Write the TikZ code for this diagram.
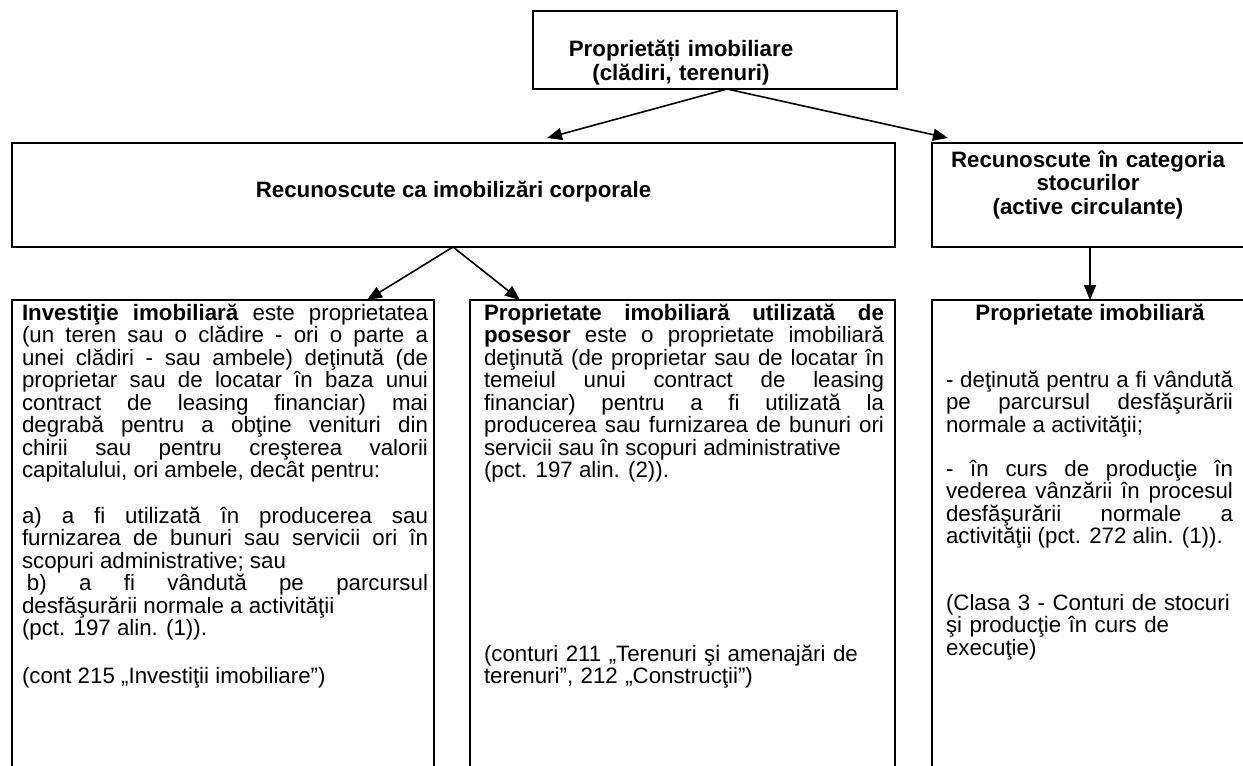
\documentclass[tikz,border=0pt]{standalone}
\usepackage{fontspec}
\setmainfont{Liberation Sans}
\usetikzlibrary{arrows.meta,calc}
\begin{document}
\begin{tikzpicture}[x=1pt,y=-1pt,
  every node/.style={inner sep=0pt, outer sep=0pt, font=\fontsize{22.3}{22.5}\selectfont},
  frame/.style={draw=black, line width=2.4pt, rectangle, anchor=north west},
  conn/.style={draw=black, line width=1.6pt, -{Triangle[length=15pt,width=12pt]}},
  para/.style={anchor=base west, align=justify},
  plain/.style={anchor=base west, align=left},
  heading/.style={anchor=base, align=center, font=\fontsize{22.3}{23.5}\selectfont\bfseries},
]
\useasboundingbox (0,0) rectangle (1243,766);
\clip (0,0) rectangle (1243,766);
% boxes
\node[frame, minimum width=364pt, minimum height=78pt] (top) at (533,11) {};
\node[frame, minimum width=883pt, minimum height=104pt] (cor) at (12,143) {};
\node[frame, minimum width=340pt, minimum height=104pt] (sto) at (932,143) {};
\node[frame, minimum width=422pt, minimum height=520pt] (inv) at (12,300) {};
\node[frame, minimum width=425pt, minimum height=520pt] (pos) at (470,300) {};
\node[frame, minimum width=340pt, minimum height=520pt] (stk) at (932,300) {};
% titles
\node[heading, text width=320pt, font=\fontsize{22.3}{24}\selectfont\bfseries] (toptitle) at (681,56) {Proprietăți imobiliare\\(clădiri, terenuri)};
\node[heading] (cortitle) at (453.5,197) {Recunoscute ca imobilizări corporale};
\node[heading, text width=320pt] (stotitle) at (1088,167) {Recunoscute în categoria\\stocurilor\\(active circulante)};
% box 1
\node[para, text width=406pt] (invA) at (22,320) {\textbf{Investiţie imobiliară} este proprietatea\linebreak
(un teren sau o clădire - ori o parte a\linebreak
unei clădiri - sau ambele) deţinută (de\linebreak
proprietar sau de locatar în baza unui\linebreak
contract de leasing financiar) mai\linebreak
degrabă pentru a obţine venituri din\linebreak
chirii sau pentru creşterea valorii\linebreak
capitalului, ori ambele, decât pentru:};
\node[para, text width=406pt] (invB) at (22,523) {a) a fi utilizată în producerea sau\linebreak
furnizarea de bunuri sau servicii ori în\linebreak
scopuri administrative; sau\newline
\hspace*{5pt}b) a fi vândută pe parcursul\linebreak
desfăşurării normale a activităţii\newline
(pct. 197 alin. (1)).};
\node[plain] (invC) at (22,683) {(cont 215 „Investiţii imobiliare”)};
% box 2
\node[para, text width=400pt] (posA) at (484,320) {\textbf{Proprietate imobiliară utilizată de}\linebreak
\textbf{posesor} este o proprietate imobiliară\linebreak
deţinută (de proprietar sau de locatar în\linebreak
temeiul unui contract de leasing\linebreak
financiar) pentru a fi utilizată la\linebreak
producerea sau furnizarea de bunuri ori\linebreak
servicii sau în scopuri administrative\newline
(pct. 197 alin. (2)).};
\node[plain, text width=400pt] (posB) at (484,661) {(conturi 211 „Terenuri şi amenajări de\\terenuri”, 212 „Construcţii”)};
% box 3
\node[heading] (stkT) at (1090,320) {Proprietate imobiliară};
\node[para, text width=287pt] (stkA) at (946,387) {- deţinută pentru a fi vândută\linebreak
pe parcursul desfăşurării\linebreak
normale a activităţii;};
\node[para, text width=287pt] (stkB) at (946,476) {- în curs de producţie în\linebreak
vederea vânzării în procesul\linebreak
desfăşurării normale a\linebreak
activităţii (pct. 272 alin. (1)).};
\node[plain, text width=287pt] (stkC) at (946,610) {(Clasa 3 - Conturi de stocuri\\şi producţie în curs de\\execuţie)};
% connectors
\draw[conn] ($(top.south)+(12,0)$) -- ($(cor.north west)+(535,-5)$);
\draw[conn] ($(top.south)+(12,0)$) -- ($(sto.north west)+(16,-5)$);
\draw[conn] ($(cor.south west)+(441,0)$) -- ($(inv.north west)+(355,0)$);
\draw[conn] ($(cor.south west)+(441,0)$) -- ($(pos.north west)+(50,0)$);
\draw[conn] ($(sto.south west)+(158,0)$) -- ($(stk.north west)+(158,0)$);
\end{tikzpicture}
\end{document}
